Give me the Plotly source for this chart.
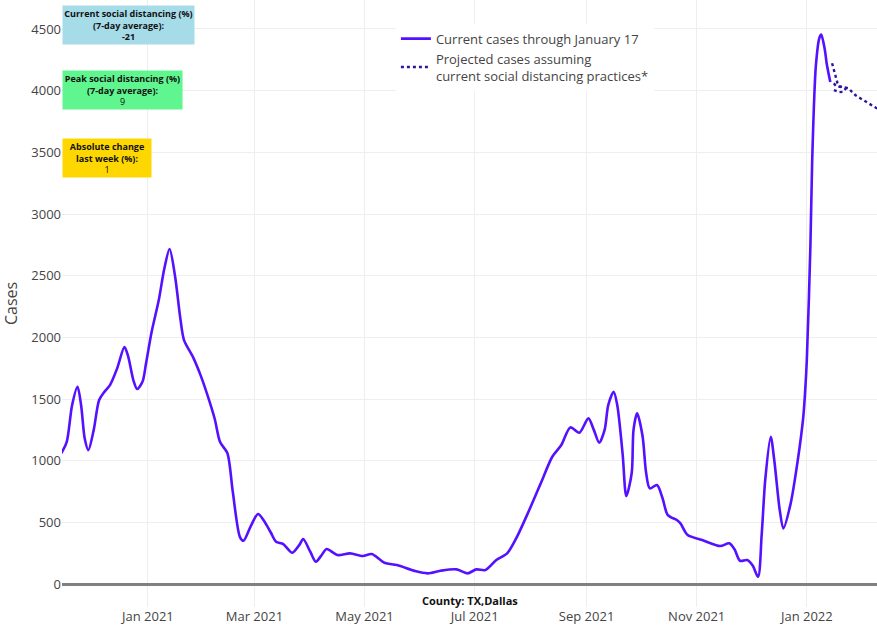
import plotly.graph_objects as go

# ---- data ----
dates = [
    "2020-11-14", "2020-11-17", "2020-11-20", "2020-11-23", "2020-11-25", "2020-11-27", "2020-11-29",
    "2020-12-02", "2020-12-05", "2020-12-08", "2020-12-11", "2020-12-15", "2020-12-19", "2020-12-21",
    "2020-12-24", "2020-12-26", "2020-12-29", "2020-12-31", "2021-01-03", "2021-01-07", "2021-01-10",
    "2021-01-13", "2021-01-16", "2021-01-19", "2021-01-21", "2021-01-26", "2021-01-30", "2021-02-03",
    "2021-02-07", "2021-02-10", "2021-02-14", "2021-02-17", "2021-02-21", "2021-02-23", "2021-02-27",
    "2021-03-03", "2021-03-06", "2021-03-10", "2021-03-13", "2021-03-17", "2021-03-22", "2021-03-26",
    "2021-03-28", "2021-04-01", "2021-04-04", "2021-04-07", "2021-04-10", "2021-04-16", "2021-04-23",
    "2021-04-30", "2021-05-05", "2021-05-12", "2021-05-19", "2021-05-29", "2021-06-05", "2021-06-12",
    "2021-06-21", "2021-06-27", "2021-07-02", "2021-07-07", "2021-07-13", "2021-07-19", "2021-07-24",
    "2021-07-30", "2021-08-05", "2021-08-07", "2021-08-13", "2021-08-18", "2021-08-23", "2021-08-28",
    "2021-09-02", "2021-09-05", "2021-09-08", "2021-09-11", "2021-09-13", "2021-09-16", "2021-09-18",
    "2021-09-21", "2021-09-23", "2021-09-26", "2021-09-27", "2021-09-29", "2021-10-02", "2021-10-04",
    "2021-10-06", "2021-10-10", "2021-10-13", "2021-10-16", "2021-10-21", "2021-10-23", "2021-10-27",
    "2021-11-04", "2021-11-14", "2021-11-19", "2021-11-22", "2021-11-25", "2021-11-29", "2021-12-02",
    "2021-12-05", "2021-12-07", "2021-12-09", "2021-12-12", "2021-12-14", "2021-12-17", "2021-12-19",
    "2021-12-23", "2021-12-27", "2021-12-30", "2021-12-31", "2022-01-01", "2022-01-03", "2022-01-04",
    "2022-01-06", "2022-01-08", "2022-01-09", "2022-01-11", "2022-01-12", "2022-01-14",
]
cases = [
    1060, 1150, 1450, 1600, 1450, 1180, 1086,
    1250, 1492, 1560, 1613, 1750, 1922, 1850,
    1650, 1581, 1640, 1792, 2040, 2300, 2550,
    2716, 2500, 2150, 1978, 1840, 1700, 1532,
    1340, 1151, 1062, 750, 381, 351, 470,
    568, 520, 420, 343, 324, 254, 320,
    365, 260, 181, 230, 284, 235, 249,
    227, 243, 173, 154, 105, 87, 108,
    119, 87, 119, 114, 195, 249, 370,
    559, 762, 830, 1032, 1127, 1270, 1227,
    1343, 1250, 1146, 1250, 1450, 1559, 1450,
    1050, 713, 900, 1250, 1384, 1200, 900,
    776, 803, 700, 559, 519, 492, 397,
    357, 308, 330, 280, 189, 195, 150,
    59, 400, 850, 1194, 1000, 600, 451,
    650, 1005, 1350, 1546, 1816, 2750, 3450,
    4200, 4430, 4455, 4330, 4220, 4070,
]

proj_a_dates = ["2022-01-15", "2022-01-16", "2022-01-17", "2022-01-18", "2022-01-19", "2022-01-21",
                "2022-01-23", "2022-01-24", "2022-01-26", "2022-01-28", "2022-01-31", "2022-02-03",
                "2022-02-06", "2022-02-09"]
proj_a_cases = [4222, 4160, 4100, 4060, 4035, 4030, 4025, 4020, 3990, 3962, 3935, 3910, 3884, 3855]
proj_b_dates = ["2022-01-16", "2022-01-17", "2022-01-18", "2022-01-20", "2022-01-22"]
proj_b_cases = [4060, 4040, 4035, 4030, 4025]
proj_c_dates = ["2022-01-16", "2022-01-17", "2022-01-19", "2022-01-21", "2022-01-23"]
proj_c_cases = [4005, 3998, 3988, 3990, 4025]

y_ticks = [0, 500, 1000, 1500, 2000, 2500, 3000, 3500, 4000, 4500]

box_texts = [
    "<b>Current social distancing (%)<br>(7-day average):<br>-21</b>",
    "<b>Peak social distancing (%)<br>(7-day average):</b><br>9",
    "<b>Absolute change<br>last week (%):</b><br>1",
]
box_colors = ["#a6dbe8", "#5ff58f", "#ffd700"]

main_color = "#5511ff"
proj_color = "#2e149e"

fig = go.Figure()
fig.add_trace(go.Scatter(
    x=dates, y=cases, mode="lines", name="Current cases through January 17",
    line=dict(color=main_color, width=2.6, shape="spline", smoothing=0.8),
))
fig.add_trace(go.Scatter(
    x=proj_a_dates, y=proj_a_cases, mode="lines",
    name="Projected cases assuming<br>current social distancing practices*",
    line=dict(color=proj_color, width=2.4, dash="dot"),
))
fig.add_trace(go.Scatter(
    x=proj_b_dates, y=proj_b_cases, mode="lines", showlegend=False,
    line=dict(color=proj_color, width=2.4, dash="dot"),
))
fig.add_trace(go.Scatter(
    x=proj_c_dates, y=proj_c_cases, mode="lines", showlegend=False,
    line=dict(color=proj_color, width=2.4, dash="dot"),
))

annotations = []
box_tops = [0.992, 0.884, 0.773]
box_widths = [129, 117, 86]
for txt, col, top, w in zip(box_texts, box_colors, box_tops, box_widths):
    annotations.append(dict(
        text=txt, x=0, y=top, xref="paper", yref="paper", xanchor="left", yanchor="top",
        showarrow=False, bgcolor=col, width=w, align="center",
        font=dict(family="Open Sans", size=9, color="#111"), borderpad=1,
    ))
annotations.append(dict(
    text="<b>County: TX,Dallas</b>", x=0.5, y=0.01, xref="paper", yref="paper",
    xanchor="center", yanchor="middle", showarrow=False,
    font=dict(family="Open Sans", size=11, color="#111"),
))

fig.update_layout(
    template="none",
    width=877, height=628,
    margin=dict(l=62, r=0, t=0, b=21),
    paper_bgcolor="white", plot_bgcolor="white",
    font=dict(family="Open Sans", color="#444"),
    showlegend=True,
    legend=dict(x=0.4097, y=0.961, xanchor="left", yanchor="top", bgcolor="white",
                font=dict(size=13, color="#444")),
    annotations=annotations,
    xaxis=dict(
        range=["2020-11-14 10:00", "2022-02-08 21:00"],
        dtick="M2", tick0="2021-01-01", tickformat="%b %Y",
        showgrid=True, gridcolor="#eeeeee", gridwidth=1,
        zeroline=False, showline=False, ticks="",
        tickfont=dict(size=13, color="#444"),
    ),
    yaxis=dict(
        range=[-186, 4735],
        tickvals=y_ticks,
        showgrid=True, gridcolor="#eeeeee", gridwidth=1,
        zeroline=True, zerolinecolor="#808080", zerolinewidth=2.5,
        showline=False, ticks="",
        tickfont=dict(size=13, color="#444"),
        title=dict(text="Cases", font=dict(size=16, color="#444"), standoff=12),
    ),
)

fig.write_html("out.html", config={"displayModeBar": False},
               post_script="document.body.style.margin='0';document.body.style.overflow='hidden';")
